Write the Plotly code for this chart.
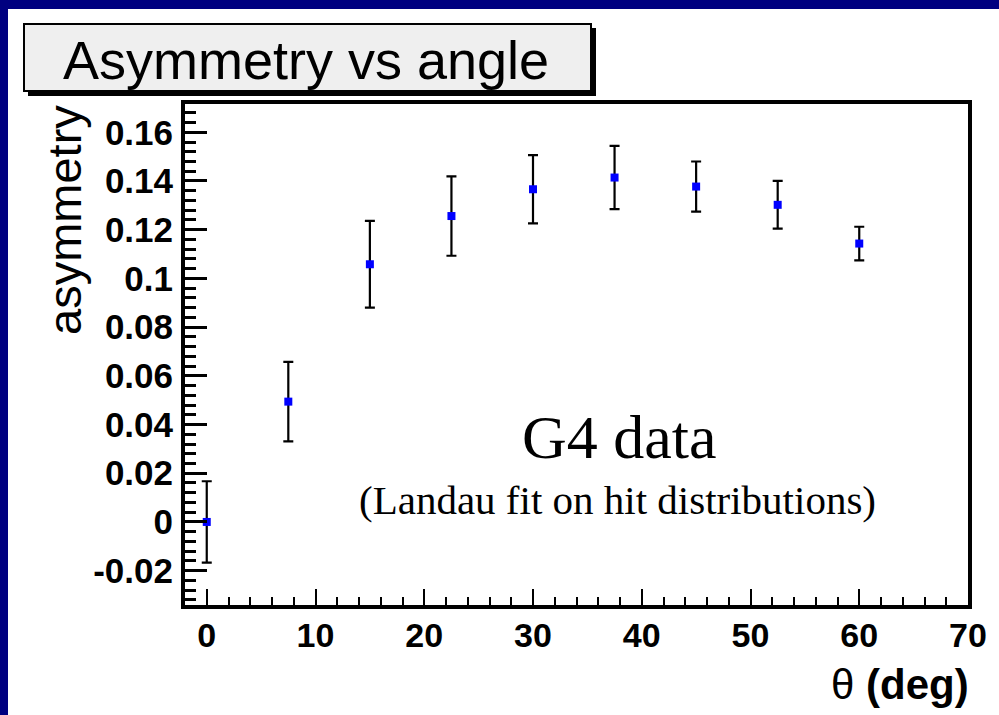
import plotly.graph_objects as go

# ---- data ----
theta_deg = [0, 7.5, 15, 22.5, 30, 37.5, 45, 52.5, 60]
asymmetry = [0.0, 0.0494, 0.1058, 0.1256, 0.1366, 0.1414, 0.1377, 0.1302, 0.1143]
asym_err = [0.0167, 0.0163, 0.0178, 0.0163, 0.0140, 0.0130, 0.0103, 0.0098, 0.0069]

y_tick_vals = [-0.02, 0, 0.02, 0.04, 0.06, 0.08, 0.10, 0.12, 0.14, 0.16]
y_tick_text = ["-0.02", "0", "0.02", "0.04", "0.06", "0.08", "0.1", "0.12", "0.14", "0.16"]
x_tick_vals = [0, 10, 20, 30, 40, 50, 60, 70]
x_tick_text = ["0", "10", "20", "30", "40", "50", "60", "70"]

title_text = "Asymmetry vs angle"
x_title = "θ <b>(deg)</b>"
y_title = "asymmetry"
note_big = "G4 data"
note_small = "(Landau fit on hit distributions)"

# ---- layout geometry (pixels) ----
W, H = 999, 715
L, R, T, B = 185, 968, 104, 605


def px(x):
    return (x - L) / (R - L)


def py(y):
    return (B - y) / (B - T)


SANS = "Liberation Sans, Arial, Helvetica, sans-serif"
SERIF = "Liberation Serif, Times New Roman, serif"
NAVY = "#000080"

fig = go.Figure()
fig.add_trace(go.Scatter(
    x=theta_deg, y=asymmetry, mode="markers",
    marker=dict(symbol="square", size=8, color="#0000ff", line=dict(width=0)),
    error_y=dict(type="data", array=asym_err, visible=True,
                 color="black", thickness=2.2, width=5),
    showlegend=False,
))

fig.update_layout(
    width=W, height=H,
    margin=dict(l=L, r=W - R, t=T, b=H - B, pad=0),
    paper_bgcolor="white",
    plot_bgcolor="white",
    showlegend=False,
)

fig.update_xaxes(
    range=[-2, 70], showgrid=False, zeroline=False,
    showline=True, linecolor="black", linewidth=4, mirror=True,
    ticks="inside", ticklen=16, tickwidth=2, tickcolor="black",
    tickvals=x_tick_vals, ticktext=x_tick_text,
    tickfont=dict(family=SANS, size=34, color="black", weight="bold"),
    ticklabelstandoff=-3,
    minor=dict(ticks="inside", dtick=2, tick0=0, ticklen=8, tickwidth=2,
               tickcolor="black", showgrid=False),
)
fig.update_yaxes(
    range=[-0.0341, 0.1716], showgrid=False, zeroline=False,
    showline=True, linecolor="black", linewidth=4, mirror=True,
    ticks="inside", ticklen=22, tickwidth=3, tickcolor="black",
    tickvals=y_tick_vals, ticktext=y_tick_text,
    tickfont=dict(family=SANS, size=35, color="black", weight="bold"),
    ticklabelstandoff=1,
    minor=dict(ticks="inside", dtick=0.004, tick0=0, ticklen=11, tickwidth=2.5,
               tickcolor="black", showgrid=False),
)

shapes = [
    # navy frame strips: left and top only
    dict(type="rect", xref="paper", yref="paper", layer="above",
         x0=px(-5), x1=px(8), y0=py(725), y1=py(-5),
         fillcolor=NAVY, line=dict(width=0)),
    dict(type="rect", xref="paper", yref="paper", layer="above",
         x0=px(-5), x1=px(1010), y0=py(9), y1=py(-5),
         fillcolor=NAVY, line=dict(width=0)),
    # title box shadow
    dict(type="rect", xref="paper", yref="paper", layer="above",
         x0=px(28), x1=px(596), y0=py(96), y1=py(28),
         fillcolor="black", line=dict(width=0)),
    # title box
    dict(type="rect", xref="paper", yref="paper", layer="above",
         x0=px(24), x1=px(591), y0=py(91), y1=py(24),
         fillcolor="#efefef", line=dict(color="black", width=2)),
]
fig.update_layout(shapes=shapes)

annotations = [
    dict(text=title_text, xref="paper", yref="paper", x=px(306), y=py(60),
         xanchor="center", yanchor="middle", showarrow=False,
         font=dict(family=SANS, size=54, color="black")),
    dict(text=y_title, xref="paper", yref="paper", x=px(64), y=py(220),
         xanchor="center", yanchor="middle", showarrow=False, textangle=-90,
         font=dict(family=SANS, size=47, color="black")),
    dict(text=x_title, xref="paper", yref="paper", x=px(971), y=py(684),
         xanchor="right", yanchor="middle", showarrow=False,
         font=dict(family=SANS, size=42, color="black")),
    dict(text=note_big, xref="paper", yref="paper", x=px(619), y=py(437),
         xanchor="center", yanchor="middle", showarrow=False,
         font=dict(family=SERIF, size=62, color="black")),
    dict(text=note_small, xref="paper", yref="paper", x=px(617), y=py(500),
         xanchor="center", yanchor="middle", showarrow=False,
         font=dict(family=SERIF, size=41, color="black")),
]
fig.update_layout(annotations=annotations)

fig.write_html("out.html")
